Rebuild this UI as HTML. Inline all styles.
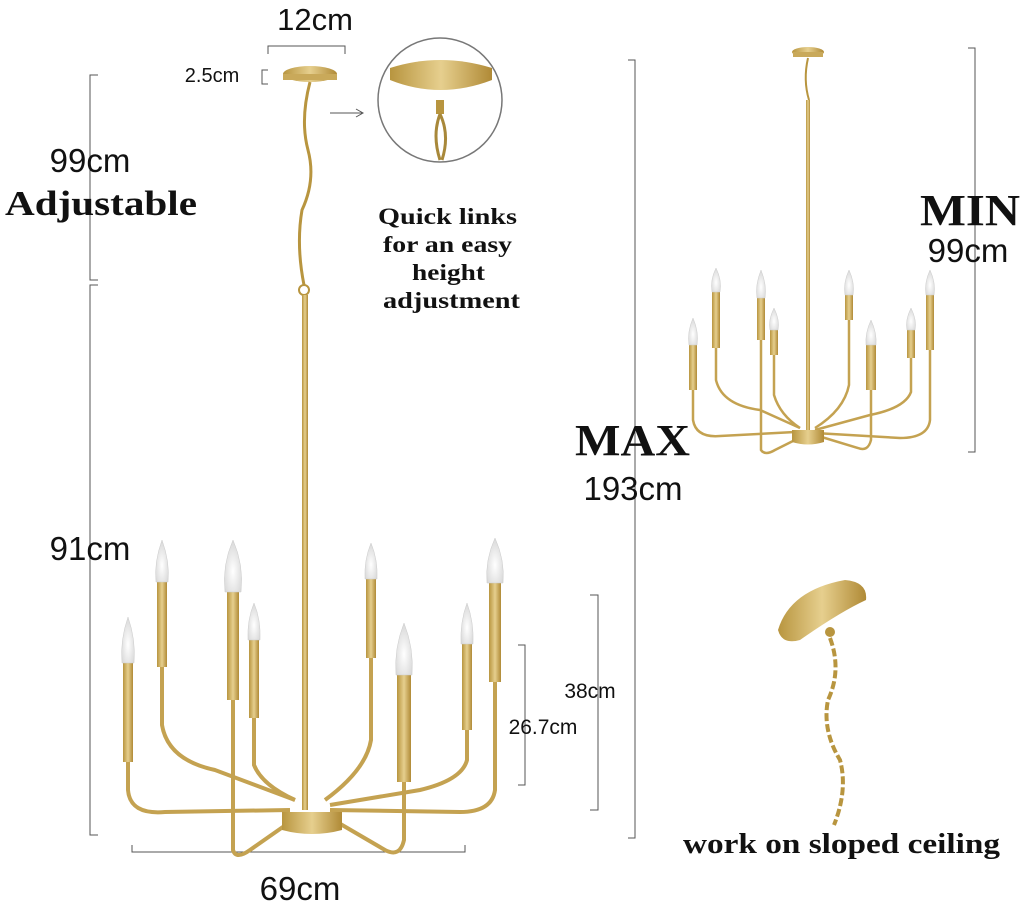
<!DOCTYPE html>
<html><head><meta charset="utf-8"><style>
html,body{margin:0;padding:0;background:#fff;}
svg{display:block}
.s{font-family:"Liberation Sans",sans-serif;fill:#111}
.b{font-family:"Liberation Serif",serif;font-weight:bold;fill:#111}
</style></head><body>
<svg width="1024" height="909" viewBox="0 0 1024 909" xmlns="http://www.w3.org/2000/svg">
<defs>
<linearGradient id="g" x1="0" x2="1"><stop offset="0" stop-color="#b8953f"/><stop offset=".5" stop-color="#e6cf8e"/><stop offset="1" stop-color="#b08a36"/></linearGradient>
<radialGradient id="f" cx=".5" cy=".6" r=".6"><stop offset="0" stop-color="#fff"/><stop offset="1" stop-color="#d8d8d8"/></radialGradient>
</defs>
<rect width="1024" height="909" fill="#fff"/>
<g stroke="#555" stroke-width="1" fill="none">
<path d="M268 54 V46 H345 V54"/>
<path d="M268 70 H262 V84 H268"/>
<path d="M98 75 H90 V280 H98"/>
<path d="M98 285 H90 V835 H98"/>
<path d="M132 845 V852 H465 V845"/>
<path d="M590 595 H598 V810 H590"/>
<path d="M518 645 H525 V785 H518"/>
<path d="M628 60 H635 V838 H628"/>
<path d="M968 48 H975 V452 H968"/>
<path d="M330 113 H362"/><path d="M356 109 L363 113 L356 117"/>
</g>
<text class="s" x="315" y="30" font-size="31" text-anchor="middle">12cm</text>
<text class="s" x="212" y="82" font-size="20" text-anchor="middle">2.5cm</text>
<text class="s" x="90" y="172" font-size="33" text-anchor="middle">99cm</text>
<text class="b" x="5" y="215" font-size="35" textLength="192" lengthAdjust="spacingAndGlyphs">Adjustable</text>
<text class="s" x="90" y="560" font-size="33" text-anchor="middle">91cm</text>
<text class="s" x="300" y="900" font-size="33" text-anchor="middle">69cm</text>
<text class="s" x="590" y="698" font-size="21" text-anchor="middle">38cm</text>
<text class="s" x="543" y="734" font-size="21" text-anchor="middle">26.7cm</text>
<g class="b" font-size="23">
<text x="378" y="224" textLength="139" lengthAdjust="spacingAndGlyphs">Quick links</text><text x="383" y="252" textLength="129" lengthAdjust="spacingAndGlyphs">for an easy</text><text x="412" y="280" textLength="73" lengthAdjust="spacingAndGlyphs">height</text><text x="383" y="308" textLength="137" lengthAdjust="spacingAndGlyphs">adjustment</text></g>
<text class="b" x="575" y="455" font-size="44" textLength="115" lengthAdjust="spacingAndGlyphs">MAX</text>
<text class="s" x="633" y="500" font-size="33" text-anchor="middle">193cm</text>
<text class="b" x="920" y="225" font-size="44" textLength="100" lengthAdjust="spacingAndGlyphs">MIN</text>
<text class="s" x="968" y="262" font-size="33" text-anchor="middle">99cm</text>
<text class="b" x="683" y="853" font-size="28" textLength="317" lengthAdjust="spacingAndGlyphs">work on sloped ceiling</text>
<circle cx="440" cy="100" r="62" fill="#fff" stroke="#777" stroke-width="1.5"/>
<path d="M390 68 Q440 52 492 68 L492 80 Q440 100 390 80Z" fill="url(#g)"/>
<rect x="436" y="100" width="8" height="14" fill="#b8953f"/>
<path d="M440 114 Q432 135 440 160 M440 114 Q450 135 442 160" stroke="#a8883a" stroke-width="3" fill="none"/>
<ellipse cx="310" cy="74" rx="27" ry="8" fill="url(#g)"/>
<rect x="283" y="74" width="54" height="6" fill="#c9a95a"/>
<path d="M310 82 Q300 120 308 150 Q316 180 302 210 Q296 245 304 285" stroke="#b8953f" stroke-width="3" fill="none"/>
<circle cx="304" cy="290" r="5" stroke="#b8953f" stroke-width="2" fill="none"/>
<rect x="302" y="295" width="6" height="515" fill="url(#g)"/>
<g stroke="#c4a251" stroke-width="4" fill="none">
<path d="M128 762 V790 Q130 815 165 812 L290 810"/>
<path d="M162 667 V725 Q168 760 215 770 L295 800"/>
<path d="M233 700 V850 Q236 860 250 850 L300 815"/>
<path d="M254 718 V765 Q262 785 295 800"/>
<path d="M371 658 V740 Q366 770 325 800"/>
<path d="M404 782 V840 Q400 858 385 850 L325 815"/>
<path d="M467 730 V760 Q462 780 420 790 L330 805"/>
<path d="M495 682 V790 Q492 812 460 812 L330 810"/>
</g>
<path d="M282 812 H342 V830 Q312 838 282 830Z" fill="url(#g)"/>
<g fill="url(#g)">
<rect x="123" y="663" width="10" height="99"/>
<rect x="157" y="582" width="10" height="85"/>
<rect x="227" y="592" width="12" height="108"/>
<rect x="249" y="640" width="10" height="78"/>
<rect x="366" y="579" width="10" height="79"/>
<rect x="397" y="675" width="14" height="107"/>
<rect x="462" y="644" width="10" height="86"/>
<rect x="489" y="583" width="12" height="99"/>
</g>
<g fill="url(#f)" stroke="#ccc" stroke-width=".5">
<path d="M128 617 Q120 640 122 663 H134 Q136 640 128 617Z"/>
<path d="M162 540 Q154 562 156 582 H168 Q170 562 162 540Z"/>
<path d="M233 540 Q222 565 225 592 H241 Q244 565 233 540Z"/>
<path d="M254 603 Q247 620 248 640 H260 Q261 620 254 603Z"/>
<path d="M371 543 Q364 560 365 579 H377 Q378 560 371 543Z"/>
<path d="M404 623 Q394 648 396 675 H412 Q414 648 404 623Z"/>
<path d="M467 603 Q460 622 461 644 H473 Q474 622 467 603Z"/>
<path d="M495 538 Q485 560 487 583 H503 Q505 560 495 538Z"/>
</g>
<ellipse cx="808" cy="52" rx="16" ry="5" fill="url(#g)"/>
<rect x="793" y="52" width="30" height="5" fill="#c9a95a"/>
<path d="M808 58 Q803 80 809 100" stroke="#b8953f" stroke-width="2" fill="none"/>
<rect x="806" y="100" width="4" height="330" fill="url(#g)"/>
<g stroke="#c4a251" stroke-width="2.5" fill="none">
<path d="M693 390 V420 Q696 438 720 436 L795 432"/>
<path d="M716 348 V380 Q722 405 760 410 L800 428"/>
<path d="M761 340 V450 Q765 456 775 450 L805 435"/>
<path d="M774 355 V395 Q780 415 800 428"/>
<path d="M849 320 V385 Q844 410 815 428"/>
<path d="M871 390 V440 Q868 452 858 448 L815 435"/>
<path d="M911 358 V392 Q905 408 870 415 L815 430"/>
<path d="M930 350 V420 Q928 438 900 438 L815 433"/>
</g>
<path d="M792 430 H824 V442 Q808 447 792 442Z" fill="url(#g)"/>
<g fill="url(#g)">
<rect x="689" y="345" width="8" height="45"/><rect x="712" y="292" width="8" height="56"/>
<rect x="757" y="298" width="8" height="42"/><rect x="770" y="330" width="8" height="25"/>
<rect x="845" y="295" width="8" height="25"/><rect x="866" y="345" width="10" height="45"/>
<rect x="907" y="330" width="8" height="28"/><rect x="926" y="295" width="8" height="55"/>
</g>
<g fill="url(#f)" stroke="#ccc" stroke-width=".5">
<path d="M693 318 Q687 332 689 345 H697 Q699 332 693 318Z"/>
<path d="M716 268 Q710 280 712 292 H720 Q722 280 716 268Z"/>
<path d="M761 270 Q755 285 757 298 H765 Q767 285 761 270Z"/>
<path d="M774 308 Q768 320 770 330 H778 Q780 320 774 308Z"/>
<path d="M849 270 Q843 283 845 295 H853 Q855 283 849 270Z"/>
<path d="M871 320 Q865 333 866 345 H876 Q877 333 871 320Z"/>
<path d="M911 308 Q905 320 907 330 H915 Q917 320 911 308Z"/>
<path d="M930 270 Q924 283 926 295 H934 Q936 283 930 270Z"/>
</g>
<path d="M778 630 Q790 590 845 580 Q868 582 866 600 Q840 612 800 640 Q782 645 778 630Z" fill="url(#g)"/>
<circle cx="830" cy="632" r="5" fill="#b8953f"/>
<path d="M830 638 Q842 670 828 700 Q822 730 840 760 Q848 790 834 825" stroke="#b8953f" stroke-width="4" fill="none" stroke-dasharray="8 3"/>
</svg>
</body></html>
